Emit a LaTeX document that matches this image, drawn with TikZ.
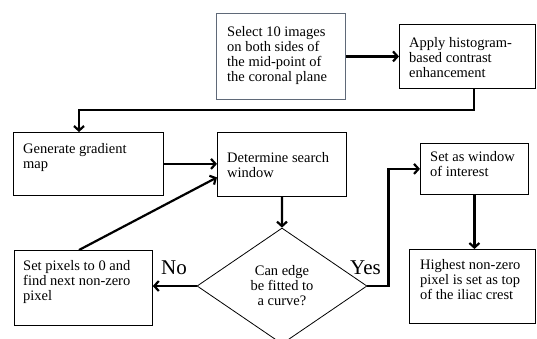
\documentclass[tikz,border=0pt]{standalone}
\usepackage{fontspec}
\setmainfont{Liberation Serif}
\usetikzlibrary{arrows.meta,calc,shapes.geometric}
\definecolor{selborder}{RGB}{95,105,120}
\begin{document}
\begin{tikzpicture}[x=1pt,y=-1pt,
  bx/.style={draw=black,line width=0.8pt,inner sep=0pt,anchor=north west},
  txt/.style={inner sep=0pt,anchor=north west,align=left,font=\fontsize{14.5}{15}\selectfont},
  flow/.style={line width=2.2pt,-{Straight Barb[length=4.5pt,width=10pt]}},
  lbl/.style={font=\fontsize{21}{22}\selectfont,inner sep=0pt,anchor=base west}]
\useasboundingbox (0,0) rectangle (537,338);
% boxes
\node[bx,draw=selborder,minimum width=129pt,minimum height=86pt] (sel) at (216,13) {};
\node[txt] (selt) at ($(sel.north west)+(11,13)$) {Select 10 images\\on both sides of\\the mid-point of\\the coronal plane};
\node[bx,minimum width=136pt,minimum height=64pt] (app) at (399,24) {};
\node[txt] (appt) at ($(app.north west)+(10,13)$) {Apply histogram-\\based contrast\\enhancement};
\node[bx,minimum width=150pt,minimum height=63pt] (gen) at (13,132) {};
\node[txt] (gent) at ($(gen.north west)+(10,11)$) {Generate gradient\\map};
\node[bx,minimum width=129pt,minimum height=64pt] (det) at (217,132) {};
\node[txt] (dett) at ($(det.north west)+(10,20)$) {Determine search\\window};
\node[bx,minimum width=108pt,minimum height=51pt] (win) at (420,143) {};
\node[txt] (wint) at ($(win.north west)+(10,8)$) {Set as window\\of interest};
\node[bx,minimum width=138pt,minimum height=75pt] (setp) at (14,250) {};
\node[txt] (setpt) at ($(setp.north west)+(9,10)$) {Set pixels to 0 and\\find next non-zero\\pixel};
\node[bx,minimum width=126pt,minimum height=74pt] (high) at (409,249) {};
\node[txt] (hight) at ($(high.north west)+(11,10)$) {Highest non-zero\\pixel is set as top\\of the iliac crest};
\node[draw,line width=0.8pt,diamond,inner sep=0pt,minimum width=170pt,minimum height=116pt,
      align=center,font=\fontsize{14.5}{15}\selectfont] (dia) at (282,286) {Can edge\\be fitted to\\a curve?};
% labels
\node[lbl] (no) at (161,274) {No};
\node[lbl] (yes) at (350,274) {Yes};
% connectors
\draw[flow] (sel.east) -- (app.west);
\coordinate (c1) at ($(app.south west)+(75,0)$);
\draw[flow] (c1) -- ++(0,21) -| ($(gen.north west)+(66,0)$);
\draw[flow] (gen.east) -- (gen.east -| det.west);
\draw[flow] ($(setp.north west)+(65,0)$) -- ($(det.west)+(0,13)$);
\draw[flow] (det.south) -- (dia.north);
\draw[flow] (dia.west) -- (dia.west -| setp.east);
\draw[flow] (dia.east) -- ++(21,0) |- (win.west);
\draw[flow] (win.south) -- (win.south |- high.north);
\end{tikzpicture}
\end{document}
